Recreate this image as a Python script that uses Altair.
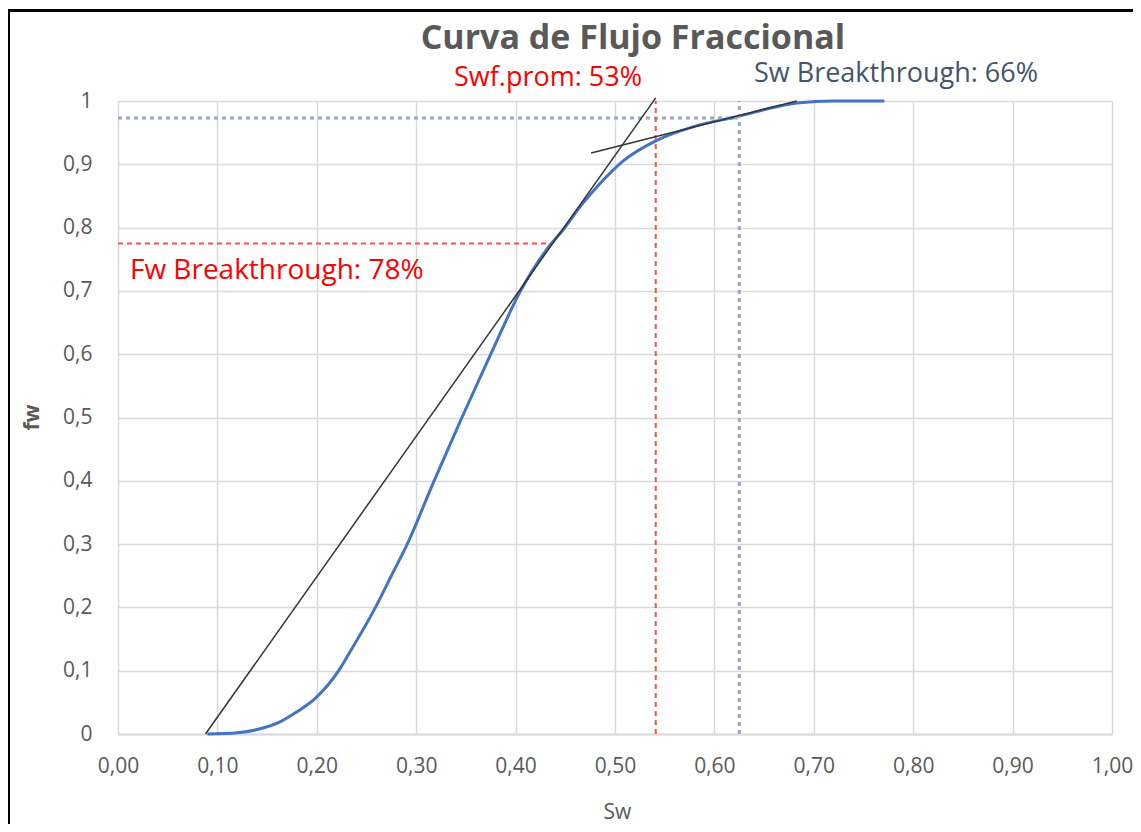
import altair as alt
import pandas as pd

# ---- data ----
sw_curve = [0.09, 0.12, 0.14, 0.164, 0.18, 0.199, 0.222, 0.232, 0.259, 0.275, 0.291,
            0.318, 0.346, 0.375, 0.405, 0.434, 0.447, 0.467, 0.484, 0.508, 0.541, 0.58,
            0.625, 0.66, 0.683, 0.72, 0.771]
fw_curve = [0.0, 0.002, 0.007, 0.02, 0.035, 0.057, 0.1, 0.126, 0.2, 0.25, 0.3,
            0.4, 0.5, 0.6, 0.7, 0.771, 0.795, 0.837, 0.868, 0.905, 0.937, 0.96,
            0.976, 0.99, 0.997, 1.0, 1.0]

# tangent lines (start/end points)
tan_x1 = [0.088, 0.476]
tan_y1 = [0.0, 0.918]
tan_x2 = [0.541, 0.683]
tan_y2 = [1.005, 1.0]

# red dashed guide segments (Swf.prom / Fw breakthrough)
red_x1 = [0.0, 0.541]
red_y1 = [0.775, 0.0]
red_x2 = [0.434, 0.541]
red_y2 = [0.775, 1.0]

# blue-gray dashed guide segments (Sw breakthrough)
blu_x1 = [0.0, 0.625]
blu_y1 = [0.973, 0.0]
blu_x2 = [0.625, 0.625]
blu_y2 = [0.973, 1.0]

# annotations
ann_text = ["Swf.prom: 53%", "Sw Breakthrough: 66%", "Fw Breakthrough: 78%"]
ann_x = [0.4326, 0.7827, 0.012]
ann_y = [1.037, 1.042, 0.731]
ann_color = ["#FF0000", "#44546A", "#FF0000"]
ann_align = ["center", "center", "left"]

title_text = ["Curva de Flujo Fraccional"]
title_x = [0.518]
title_y = [1.098]

x_ticks = [0.0, 0.1, 0.2, 0.3, 0.4, 0.5, 0.6, 0.7, 0.8, 0.9, 1.0]
y_ticks = [0.0, 0.1, 0.2, 0.3, 0.4, 0.5, 0.6, 0.7, 0.8, 0.9, 1.0]

FONT = "Open Sans"
W, H = 994, 633

curve_df = pd.DataFrame({"Sw": sw_curve, "fw": fw_curve})
tan_df = pd.DataFrame({"x": tan_x1, "y": tan_y1, "x2": tan_x2, "y2": tan_y2})
red_df = pd.DataFrame({"x": red_x1, "y": red_y1, "x2": red_x2, "y2": red_y2})
blu_df = pd.DataFrame({"x": blu_x1, "y": blu_y1, "x2": blu_x2, "y2": blu_y2})
ann_df = pd.DataFrame({"t": ann_text, "x": ann_x, "y": ann_y, "c": ann_color, "a": ann_align})
title_df = pd.DataFrame({"t": title_text, "x": title_x, "y": title_y})

xscale = alt.Scale(domain=[0, 1], nice=False, zero=False)
yscale = alt.Scale(domain=[0, 1], nice=False, zero=False)

xaxis = alt.Axis(
    values=x_ticks, labelExpr="replace(format(datum.value, '.2f'), '.', ',')",
    grid=True, gridColor="#D9D9D9", gridWidth=1.5,
    domain=True, domainColor="#D9D9D9", domainWidth=2, ticks=False,
    labelFont=FONT, labelFontSize=21, labelColor="#595959", labelPadding=21,
    labelFlush=False,
    title="Sw", titleFont=FONT, titleFontSize=21, titleColor="#595959",
    titleFontWeight="normal", titleX=499, titleY=78, titleBaseline="middle",
    titleAlign="center",
)
yaxis = alt.Axis(
    values=y_ticks, labelExpr="replace(format(datum.value, '.1~f'), '.', ',')",
    grid=True, gridColor="#D9D9D9", gridWidth=1.5,
    domain=False, ticks=False,
    labelFont=FONT, labelFontSize=21, labelColor="#595959", labelPadding=26,
    labelFlush=False,
    title="fw", titleFont=FONT, titleFontSize=21, titleColor="#595959",
    titleFontWeight="bold", titleX=-86, titleY=316, titleAngle=-90,
    titleBaseline="middle", titleAlign="center",
)

base_x = alt.X("Sw:Q", scale=xscale, axis=xaxis)
base_y = alt.Y("fw:Q", scale=yscale, axis=yaxis)

curve = alt.Chart(curve_df).mark_line(
    color="#4472C4", strokeWidth=3, interpolate="monotone"
).encode(x=base_x, y=base_y)

tangent = alt.Chart(tan_df).mark_rule(color="#333333", strokeWidth=1.5).encode(
    x=alt.X("x:Q", scale=xscale), y=alt.Y("y:Q", scale=yscale),
    x2="x2:Q", y2="y2:Q",
)

red = alt.Chart(red_df).mark_rule(color="#FF4F4F", strokeWidth=2, strokeDash=[5, 4]).encode(
    x=alt.X("x:Q", scale=xscale), y=alt.Y("y:Q", scale=yscale),
    x2="x2:Q", y2="y2:Q",
)

blu = alt.Chart(blu_df).mark_rule(color="#9AA8C2", strokeWidth=3, strokeDash=[4, 4]).encode(
    x=alt.X("x:Q", scale=xscale), y=alt.Y("y:Q", scale=yscale),
    x2="x2:Q", y2="y2:Q",
)

ann_center = alt.Chart(ann_df[ann_df.a == "center"]).mark_text(
    font=FONT, fontSize=27, align="center", baseline="middle"
).encode(
    x=alt.X("x:Q", scale=xscale), y=alt.Y("y:Q", scale=yscale),
    text="t:N", color=alt.Color("c:N", scale=None),
)
ann_left = alt.Chart(ann_df[ann_df.a == "left"]).mark_text(
    font=FONT, fontSize=28, align="left", baseline="middle"
).encode(
    x=alt.X("x:Q", scale=xscale), y=alt.Y("y:Q", scale=yscale),
    text="t:N", color=alt.Color("c:N", scale=None),
)

title = alt.Chart(title_df).mark_text(
    font=FONT, fontSize=34, fontWeight="bold", color="#595959",
    align="center", baseline="middle"
).encode(
    x=alt.X("x:Q", scale=xscale), y=alt.Y("y:Q", scale=yscale), text="t:N"
)

# screenshot frame (top and left black border)
frame_left = alt.Chart(pd.DataFrame({"k": [0]})).mark_rule(color="black", strokeWidth=3).encode(
    x=alt.value(-109.5), y=alt.value(-90.5), y2=alt.value(740)
)
frame_top = alt.Chart(pd.DataFrame({"k": [0]})).mark_rule(color="black", strokeWidth=3).encode(
    x=alt.value(-111), x2=alt.value(1030), y=alt.value(-90.5)
)

chart = alt.layer(
    curve, blu, red, tangent, ann_center, ann_left, title, frame_left, frame_top
).properties(
    width=W, height=H,
    autosize=alt.AutoSizeParams(type="none"),
    padding={"left": 110, "top": 93, "right": 21, "bottom": 90},
).configure_view(stroke=None).configure(background="white")

chart.save("out.html", embed_options={"renderer": "svg", "actions": False})
